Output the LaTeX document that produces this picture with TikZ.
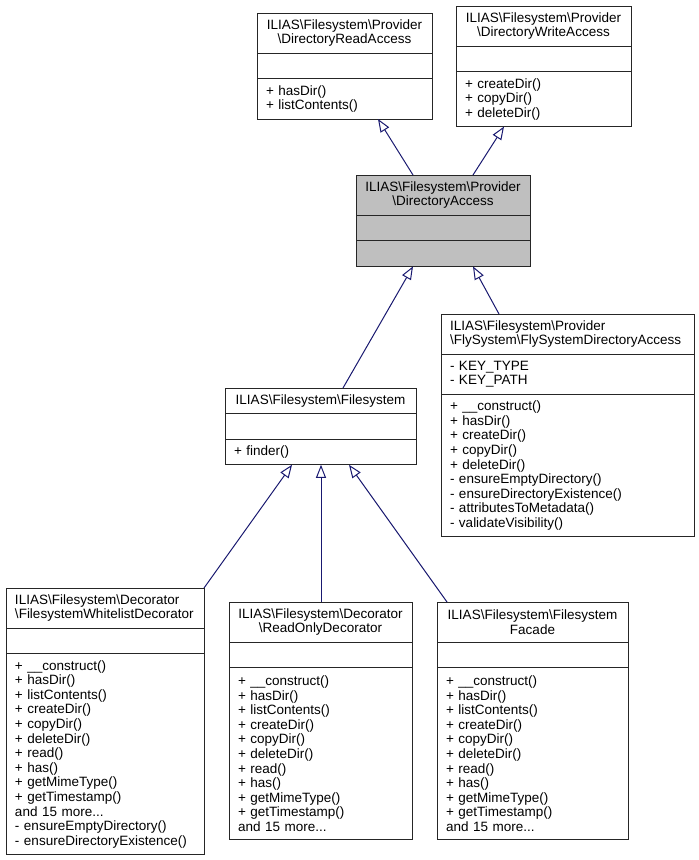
\documentclass[tikz,border=0pt]{standalone}
\usepackage{fontspec}
\setmainfont{Liberation Sans}
\usepackage{xcolor}
\usepackage{tikz}
\usetikzlibrary{arrows.meta, positioning}

\definecolor{edgeblue}{RGB}{25,25,112}
\definecolor{boxgray}{RGB}{191,191,191}
\newcommand{\bs}{\textbackslash}

\tikzset{
    part/.style={draw=black!85, line width=1pt, fill=white, inner xsep=9pt, inner ysep=0pt,
        outer sep=0pt, font=\fontsize{13.5}{14.6}\selectfont},
    title/.style={part, align=center},
    ltitle/.style={part, align=left},
    members/.style={part, align=left},
    inherit/.style={draw=edgeblue, line width=1pt, -{Triangle[open, length=13pt, width=10pt]}}
}

\begin{document}
\begin{tikzpicture}[x=1pt, y=-1pt]
    % Page
    \fill[white] (0,0) rectangle (699,860);
    \useasboundingbox (0,0) rectangle (699,860);
    % Directory read access
    \node[title, anchor=north west, text width=157pt, minimum height=40.2pt] (readT) at (257,13)
        {ILIAS\bs Filesystem\bs Provider\\\bs DirectoryReadAccess};
    \node[members, text width=157pt, minimum height=25.6pt, below=0pt of readT] (readA) {};
    \node[members, text width=157pt, minimum height=40.2pt, below=0pt of readA] (readM)
        {+ hasDir()\\+ listContents()};
    % Directory write access
    \node[title, anchor=north west, text width=157pt, minimum height=40.2pt] (writeT) at (456,6)
        {ILIAS\bs Filesystem\bs Provider\\\bs DirectoryWriteAccess};
    \node[members, text width=157pt, minimum height=25.6pt, below=0pt of writeT] (writeA) {};
    \node[members, text width=157pt, minimum height=54.8pt, below=0pt of writeA] (writeM)
        {+ createDir()\\+ copyDir()\\+ deleteDir()};
    % Directory access (highlighted)
    \node[title, fill=boxgray, anchor=north west, text width=156pt, minimum height=40.2pt] (accT) at (356,175)
        {ILIAS\bs Filesystem\bs Provider\\\bs DirectoryAccess};
    \node[members, fill=boxgray, text width=156pt, minimum height=25.6pt, below=0pt of accT] (accA) {};
    \node[members, fill=boxgray, text width=156pt, minimum height=25.6pt, below=0pt of accA] (accM) {};
    % Fly system directory access
    \node[ltitle, anchor=north west, text width=235pt, minimum height=40.2pt] (flyT) at (441,314)
        {ILIAS\bs Filesystem\bs Provider\\\bs FlySystem\bs FlySystemDirectoryAccess};
    \node[members, text width=235pt, minimum height=40.2pt, below=0pt of flyT] (flyA)
        {- KEY\_TYPE\\- KEY\_PATH};
    \node[members, text width=235pt, minimum height=142.4pt, below=0pt of flyA] (flyM)
        {+ \_\_construct()\\+ hasDir()\\+ createDir()\\+ copyDir()\\+ deleteDir()\\- ensureEmptyDirectory()\\- ensureDirectoryExistence()\\- attributesToMetadata()\\- validateVisibility()};
    % Filesystem
    \node[title, anchor=north west, text width=173pt, minimum height=25.6pt] (fsT) at (225,388)
        {ILIAS\bs Filesystem\bs Filesystem};
    \node[members, text width=173pt, minimum height=25.6pt, below=0pt of fsT] (fsA) {};
    \node[members, text width=173pt, minimum height=25.6pt, below=0pt of fsA] (fsM) {+ finder()};
    % Whitelist decorator
    \node[ltitle, anchor=north west, text width=180pt, minimum height=40.2pt] (whiteT) at (6,588)
        {ILIAS\bs Filesystem\bs Decorator\\\bs FilesystemWhitelistDecorator};
    \node[members, text width=180pt, minimum height=25.6pt, below=0pt of whiteT] (whiteA) {};
    \node[members, text width=180pt, minimum height=200.8pt, below=0pt of whiteA] (whiteM)
        {+ \_\_construct()\\+ hasDir()\\+ listContents()\\+ createDir()\\+ copyDir()\\+ deleteDir()\\+ read()\\+ has()\\+ getMimeType()\\+ getTimestamp()\\and 15 more...\\- ensureEmptyDirectory()\\- ensureDirectoryExistence()};
    % Read only decorator
    \node[title, anchor=north west, text width=165pt, minimum height=40.2pt] (roT) at (229,602)
        {ILIAS\bs Filesystem\bs Decorator\\\bs ReadOnlyDecorator};
    \node[members, text width=165pt, minimum height=25.6pt, below=0pt of roT] (roA) {};
    \node[members, text width=165pt, minimum height=171.6pt, below=0pt of roA] (roM)
        {+ \_\_construct()\\+ hasDir()\\+ listContents()\\+ createDir()\\+ copyDir()\\+ deleteDir()\\+ read()\\+ has()\\+ getMimeType()\\+ getTimestamp()\\and 15 more...};
    % Filesystem facade
    \node[title, anchor=north west, text width=173pt, minimum height=40.2pt] (facT) at (437,602)
        {ILIAS\bs Filesystem\bs Filesystem\\Facade};
    \node[members, text width=173pt, minimum height=25.6pt, below=0pt of facT] (facA) {};
    \node[members, text width=173pt, minimum height=171.6pt, below=0pt of facA] (facM)
        {+ \_\_construct()\\+ hasDir()\\+ listContents()\\+ createDir()\\+ copyDir()\\+ deleteDir()\\+ read()\\+ has()\\+ getMimeType()\\+ getTimestamp()\\and 15 more...};
    % Inheritance
    \draw[inherit] ([xshift=57pt]accT.north west) -- ([xshift=121pt]readM.south west);
    \draw[inherit] ([xshift=117pt]accT.north west) -- ([xshift=48pt]writeM.south west);
    \draw[inherit] ([xshift=118pt]fsT.north west) -- ([xshift=57pt]accM.south west);
    \draw[inherit] ([xshift=58pt]flyT.north west) -- ([xshift=117pt]accM.south west);
    \draw[inherit] (whiteT.north east) -- ([xshift=67pt]fsM.south west);
    \draw[inherit] ([xshift=92pt]roT.north west) -- ([xshift=96pt]fsM.south west);
    \draw[inherit] ([xshift=10pt]facT.north west) -- ([xshift=124pt]fsM.south west);
\end{tikzpicture}
\end{document}
